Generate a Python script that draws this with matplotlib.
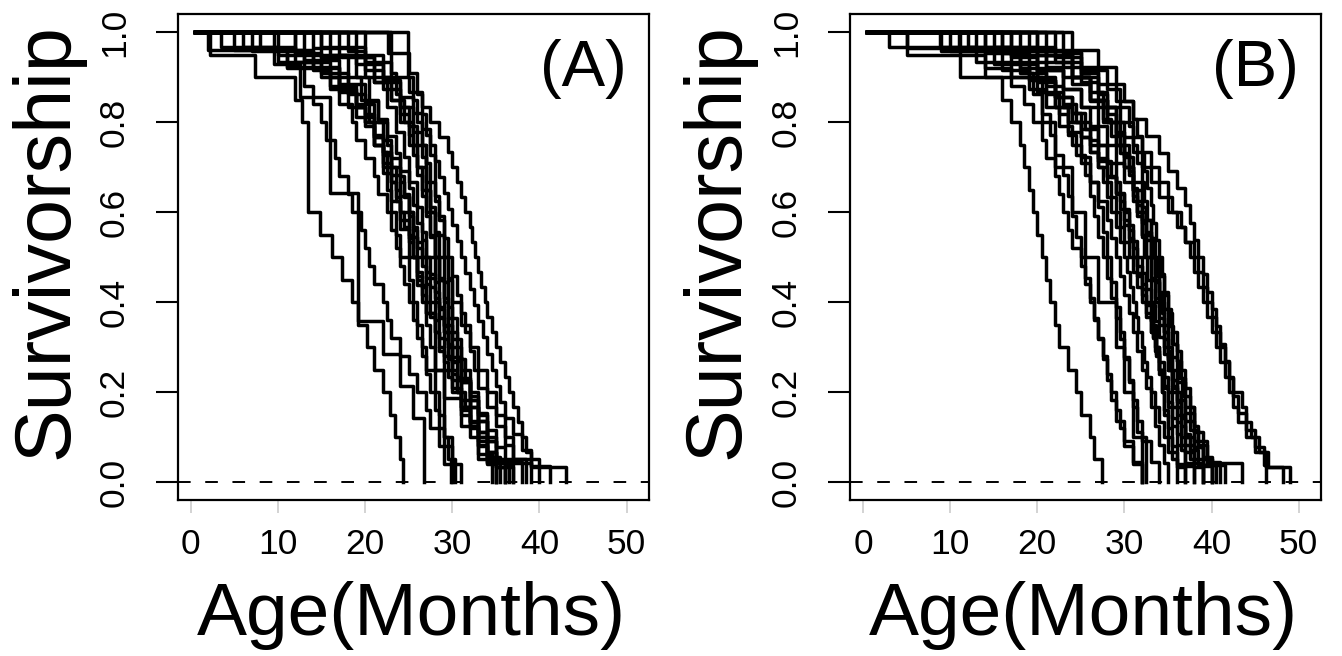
import numpy as np
import matplotlib.pyplot as plt

plt.rcParams['font.family'] = ['Liberation Sans', 'DejaVu Sans']

# ages at death (months) for each cohort
deaths_a = [
    [2.2, 7.4, 12.0, 12.8, 13.5, 13.5, 13.5, 13.5, 14.8, 16.2, 17.3, 18.5, 19.2, 20.2, 21.0, 22.0, 22.8, 23.4, 24.0, 24.4],
    [9.5, 12.5, 16.0, 16.0, 16.0, 19.2, 19.2, 19.2, 19.2, 22.0, 24.0, 25.5, 26.8, 26.8],
    [8, 11, 13, 14, 15, 15.5, 16.5, 17, 18, 18.5, 19.5, 20, 20.5, 21, 22, 22.5, 23, 24, 25, 26, 27, 27.5, 28.5, 29, 30],
    [12, 14, 16, 17, 18.5, 19, 20, 21, 21.5, 22.5, 23, 23.5, 24, 24.5, 25, 25.5, 26, 26.5, 27, 27.5, 28, 28.5, 29, 30, 31],
    [24.9, 24.9, 25.5, 26, 26.5, 27, 27, 27.5, 28, 28, 28.5, 29, 29, 29.5, 30, 30.5, 31, 32, 33, 35],
    [22.6, 23, 23.5, 24, 25, 25.5, 26, 26.5, 27, 27.5, 28, 28.5, 29, 29.5, 30, 30.5, 31, 32, 33, 34, 35, 36],
    [15, 20, 23, 25, 26.5, 27.5, 28.5, 29.5, 30, 30.5, 31, 31.5, 32, 32.3, 32.6, 33, 33.3, 33.7, 34, 34.5, 35, 35.5, 36, 36.5, 37, 37.5, 38, 38.5, 39, 43],
    [14, 19, 22, 24, 25.5, 26.5, 27.5, 28, 28.5, 29, 29.5, 30, 30.5, 31, 31.5, 32, 32.5, 33, 33.5, 34, 34.5, 35, 35.5, 36, 37, 38, 39, 41.2],
    [5, 13, 17, 19, 21, 22, 23, 24, 24.5, 25, 25.5, 26, 26.5, 27, 27.5, 28, 28.5, 29, 30, 30.5, 31, 32, 33, 34, 35],
    [17, 19, 20.5, 21.5, 22.5, 23, 23.5, 24, 25, 25.5, 26, 26.5, 27, 27.5, 28, 29, 29, 29, 30, 30.3],
    [7, 14, 16, 18, 20, 21, 22, 23, 23.5, 24, 25, 25.5, 26, 26.5, 27, 28, 28.5, 29, 30, 31, 32, 33, 34, 36],
    [3.5, 10, 15, 17, 19, 20, 21, 22, 23, 24, 24.5, 25, 25.5, 26, 26.5, 27, 27.5, 28, 28.5, 29, 29.5, 30, 30.5, 31, 31.5, 32, 33, 34, 35, 37],
    [19, 21, 22.5, 23.5, 24.5, 25, 26, 26.5, 27, 28, 28.5, 29, 30, 31, 32, 33, 34, 35.5],
    [12, 15, 18, 20, 21, 22, 23, 24, 25, 25.5, 26, 27, 28, 28.5, 29, 29.5, 30, 31, 32, 33, 34, 38],
    [2, 11, 17, 20, 21.5, 22.5, 23.5, 24, 25, 25.5, 26, 26.5, 27, 27.5, 28, 28.5, 29, 29.5, 30, 31, 32, 33, 34, 35, 36, 37],
    [16, 18, 19.5, 20.5, 21, 22, 22.5, 23, 23.5, 24, 25, 25.5, 26, 26.5, 27, 28, 28.5, 29, 29.5, 29.8],
    [18, 20, 22, 24, 25, 26, 27, 27.5, 28, 28.5, 29, 29.5, 30, 30.5, 31, 31.5, 32, 32.5, 33, 34, 35, 36, 37, 39],
    [13, 17, 19, 21, 22, 23, 24, 25, 26, 27, 28, 28, 29, 31, 33, 34.5],
    [6, 12, 16, 18, 19, 20, 21, 22, 22.5, 23, 23.5, 24, 24.5, 25, 25.5, 26, 26.5, 27, 27.5, 28, 28.5, 29, 29.5, 30, 31, 32, 33, 34, 35, 36],
    [20, 22, 23, 24, 25, 26, 26.5, 27, 27.5, 28, 28.5, 29, 29.5, 30, 31, 32, 33, 34, 35, 40],
    [23, 25, 26, 26.5, 27, 27.5, 28, 28, 28.5, 29, 29, 29.5, 30, 30, 30.5, 31, 31.5, 32, 33, 34, 35, 36.5],
    [15, 21, 24, 25.5, 26.5, 27, 27.5, 28, 28.5, 29, 29.5, 30, 30.5, 31, 32, 33, 34, 35],
    [10, 20, 23, 24.5, 25.5, 26, 27, 27.5, 28, 29, 29.5, 30, 31, 32, 33, 34, 35, 36, 37, 38.5],
]

deaths_b = [
    [5, 14, 16, 17, 18, 18.5, 19, 19.5, 20, 20.5, 21, 21.5, 22, 22.5, 23.5, 24.5, 25, 26, 26.5, 27.4],
    [11, 14, 17, 18.5, 19.5, 20.5, 21, 22, 22.5, 23, 23.5, 24, 25, 25.5, 26, 26.5, 27, 27.5, 28, 28.5, 29, 29.5, 30, 31, 32],
    [11.1, 20.5, 22, 24, 25.5, 27, 29, 30, 31, 32.5],
    [8.8, 17, 20, 22, 23, 24, 25, 26, 27, 27.5, 28, 28.5, 29, 29.5, 30, 30.3, 30.6, 31, 31.3, 31.6, 32, 32.3, 32.6, 33, 33.5, 34, 34.5, 35, 36, 37],
    [5, 15, 19, 22, 24, 25.5, 27, 28, 28.5, 29, 29.5, 30, 30.5, 31, 31.5, 32, 32.5, 33, 33.3, 33.6, 34, 34.5, 35, 35.5, 36, 36.5, 37, 38],
    [18, 21, 23, 25, 26, 27, 28, 29, 29.5, 30, 30.5, 31, 31.5, 32, 32.5, 33, 33.5, 34, 34.5, 35, 35.5, 36, 37, 39],
    [12, 20, 24, 26, 27.5, 29, 30, 31, 32, 33, 34, 35, 36, 37, 37.5, 38, 38.5, 39, 39.5, 40, 40.5, 41, 41.5, 42, 42.5, 43, 44, 45, 46.5, 49],
    [15, 22, 25, 27, 28, 29.5, 31, 32, 33, 34, 35, 35.5, 36.5, 37, 38, 38.5, 39, 39.5, 40, 40.5, 41, 41.5, 42, 42.5, 43.5, 44, 44.5, 45.5, 46.3, 48.2],
    [19, 24, 27, 29, 31, 32.5, 34, 35, 36, 37, 37.5, 38, 38.5, 39, 39.5, 40, 40.5, 41, 41.5, 42, 42.5, 43, 44, 45, 46, 46.3],
    [23, 25, 27, 28, 29, 30, 30.5, 31, 31.5, 32, 32.5, 33, 33.5, 34, 34.5, 35, 35.5, 36, 37, 38, 39.5, 41],
    [14, 18, 21, 23, 24.5, 26, 27, 28, 29, 30, 30.5, 31, 31.5, 32, 32.5, 33, 33.3, 33.6, 34, 34.3, 34.6, 35, 35.5, 36, 37],
    [20, 24, 26, 27.5, 29, 30, 31, 31.5, 32, 32.3, 32.6, 33, 33.3, 33.6, 34, 34.3, 34.6, 35, 35.5, 36],
    [9, 16, 19, 21, 22.5, 24, 25, 26, 27, 28, 28.5, 29, 29.5, 30, 30.5, 31, 31.5, 32, 32.5, 33, 33.5, 34, 34.5, 35],
    [22, 25, 27, 29, 30, 31, 32, 32.5, 33, 33.5, 34, 34.5, 35, 36, 37, 38, 39, 40],
    [3, 13, 17, 20, 22, 23.5, 25, 26, 27, 28, 28.5, 29, 29.5, 30, 30.5, 31, 31.5, 32, 32.5, 33, 33.5, 34, 34.5, 35, 35.5, 36, 36.5, 37, 38, 39],
    [17, 20, 22, 23.5, 25, 26, 27, 27.5, 28, 28.5, 29, 29.5, 30, 30.5, 31, 31.5, 32, 32],
    [16, 21, 24, 26, 27.5, 28.5, 29.5, 30.5, 31, 31.5, 32, 32.5, 33, 33.5, 34, 34.5, 35, 35.5, 36, 36.5, 37, 37.5, 38, 38.5, 39, 40.5],
    [10, 20, 23, 25, 27, 28, 29, 30, 31, 32, 33, 33.5, 34, 34.5, 35, 35.5, 36, 36.5, 37, 37.5, 38, 38.5, 39.5, 43.5],
    [21, 24, 26, 28, 29, 30, 31, 32, 32.5, 33, 33.5, 34, 34.5, 35, 35.5, 36, 36.5, 37, 37.5, 38],
    [13, 18, 20, 22, 24, 25, 26, 27, 28, 29, 30, 30.5, 31, 31.5, 32, 32.5, 33, 33.5, 34, 34.5, 35, 35.5, 36, 36.5, 37, 37.5, 38.5, 40],
    [16, 18, 19.5, 20.5, 21.5, 22, 23, 23.5, 24, 24.5, 25, 25.5, 26, 26.5, 27, 27.5, 28, 28.5, 29, 30, 31, 32],
    [20, 25, 28, 29.5, 30.5, 31, 31.5, 32, 32.3, 32.6, 33, 33.3, 33.6, 34, 34.3, 34.6, 35, 35.3, 35.6, 36, 36.5, 37, 38, 39],
    [17, 23, 26, 28, 29.5, 30.5, 31, 31.5, 32, 32.5, 33, 33.5, 34, 34.5, 35, 35.5, 36, 37, 38, 40],
    [14, 19, 21, 22.5, 23.5, 24.5, 25.5, 26, 26.5, 27, 27.5, 28, 28.5, 29, 29.5, 30, 30.5, 31, 31.5, 32, 33, 34],
    [24, 27, 29, 30, 31, 31.5, 32, 32.3, 32.6, 33, 33.3, 33.6, 34, 34.3, 34.6, 35, 35.3, 35.6, 36, 36.3, 36.6, 37, 37.5, 38, 39, 41.5],
]

start_age = 0.5
panel_labels = ['(A)', '(B)']
x_ticks = [0, 10, 20, 30, 40, 50]
y_ticks = [0.0, 0.2, 0.4, 0.6, 0.8, 1.0]

W, H = 1342, 656
fig = plt.figure(figsize=(W / 100, H / 100), dpi=100)

boxes = [(177.7, 14, 649, 499.7), (850, 14, 1321, 499.7)]
ylab_x = [47, 717.5]
xlab_x = [411.7, 1083.5]
tag_x = [627, 1299]

for i, deaths in enumerate([deaths_a, deaths_b]):
    l, t, r, b = boxes[i]
    ax = fig.add_axes([l / W, 1 - b / H, (r - l) / W, (b - t) / H])

    for d in deaths:
        d = np.sort(np.array(d, dtype=float))
        n = len(d)
        xs = np.concatenate([[start_age], d])
        ys = np.concatenate([[1.0], 1 - np.arange(1, n + 1) / n])
        ax.plot(xs, ys, drawstyle='steps-post', color='black', lw=2.5)

    ax.axhline(0, color='black', lw=1.4, ls=(0, (6.5, 7.5)))

    ax.set_xlim(-1.49, 52.56)
    ax.set_ylim(-0.0394, 1.0407)
    ax.set_xticks(x_ticks)
    ax.set_xticklabels([str(v) for v in x_ticks])
    ax.set_yticks(y_ticks)
    ax.set_yticklabels(['%.1f' % v for v in y_ticks], rotation=90, va='center')
    ax.tick_params(axis='x', length=9.4, width=1.2, color='#cccccc', pad=11, labelsize=25.5)
    ax.tick_params(axis='y', length=15.8, width=1.5, color='black', pad=18, labelsize=25.5)
    for s in ax.spines.values():
        s.set_linewidth(1.6)

    fig.text(ylab_x[i] / W, 1 - 241 / H, 'Survivorship', rotation=90,
             ha='center', va='center', fontsize=57)
    fig.text(xlab_x[i] / W, 1 - 635 / H, 'Age(Months)', ha='center',
             va='baseline', fontsize=54)
    fig.text(tag_x[i] / W, 1 - 86 / H, panel_labels[i], ha='right',
             va='baseline', fontsize=47)

fig.savefig('out.png', dpi=100)
